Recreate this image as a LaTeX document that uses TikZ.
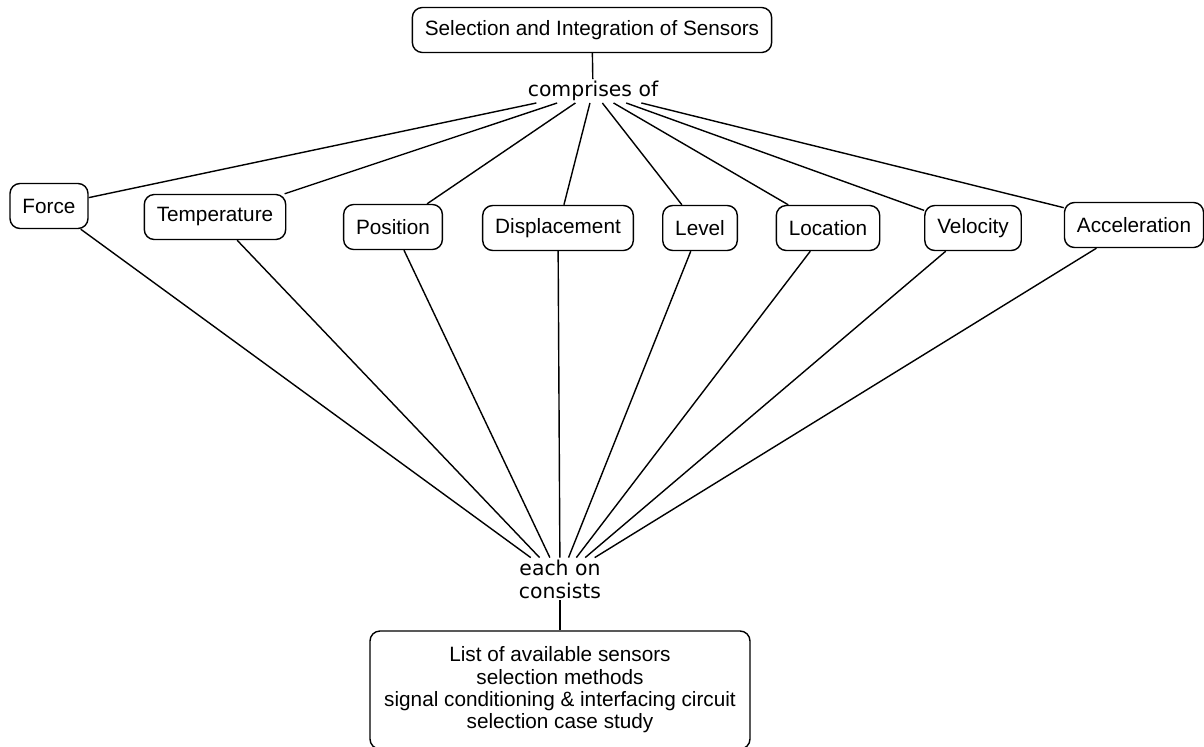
\documentclass[tikz,border=0pt]{standalone}
\usepackage{fontspec}
\setmainfont{Liberation Sans}
\newfontfamily\linkfont{DejaVu Sans}
\usetikzlibrary{positioning}

\begin{document}
\begin{tikzpicture}
    \tikzstyle{sensorbox}=[draw, rounded corners=0.2cm, line width=0.8pt, minimum height=0.9cm, inner xsep=0.25cm, font=\fontsize{11.8}{13}\selectfont]
    \tikzstyle{linktext}=[align=center, inner sep=1pt, font=\linkfont\fontsize{11.6}{13}\selectfont]
    \useasboundingbox (0,0) rectangle (24.08,-14.92);

    % Topic
    \node[sensorbox] (topic) at (11.84, -0.6) {Selection and Integration of Sensors};
    \node[linktext] (comprises) at (11.86, -1.82) {comprises of};
    \draw[line width=0.8pt] (topic) -- (comprises);

    % Sensors
    \node[sensorbox] (force) at (0.98, -4.12) {Force};
    \node[sensorbox] (temperature) at (4.3, -4.34) {Temperature};
    \node[sensorbox] (position) at (7.86, -4.54) {Position};
    \node[sensorbox] (displacement) at (11.16, -4.56) {Displacement};
    \node[sensorbox] (level) at (14.0, -4.56) {Level};
    \node[sensorbox] (location) at (16.56, -4.56) {Location};
    \node[sensorbox] (velocity) at (19.46, -4.56) {Velocity};
    \node[sensorbox] (acceleration) at (22.68, -4.5) {Acceleration};

    % Contents
    \node[linktext] (each) at (11.2, -11.58) {each on\\consists};
    \node[sensorbox, minimum width=7.6cm, minimum height=2.36cm, font=\fontsize{11.8}{12.7}\selectfont, align=center] (contents) at (11.2, -13.8)
        {List of available sensors\\selection methods\\signal conditioning \& interfacing circuit\\selection case study};
    \draw[line width=0.8pt] (each) -- (contents);

    \foreach \s in {force, temperature, position, displacement, level, location, velocity, acceleration} {
        \draw[line width=0.8pt] (comprises) -- (\s);
        \draw[line width=0.8pt] (\s) -- (each);
    }
\end{tikzpicture}
\end{document}
